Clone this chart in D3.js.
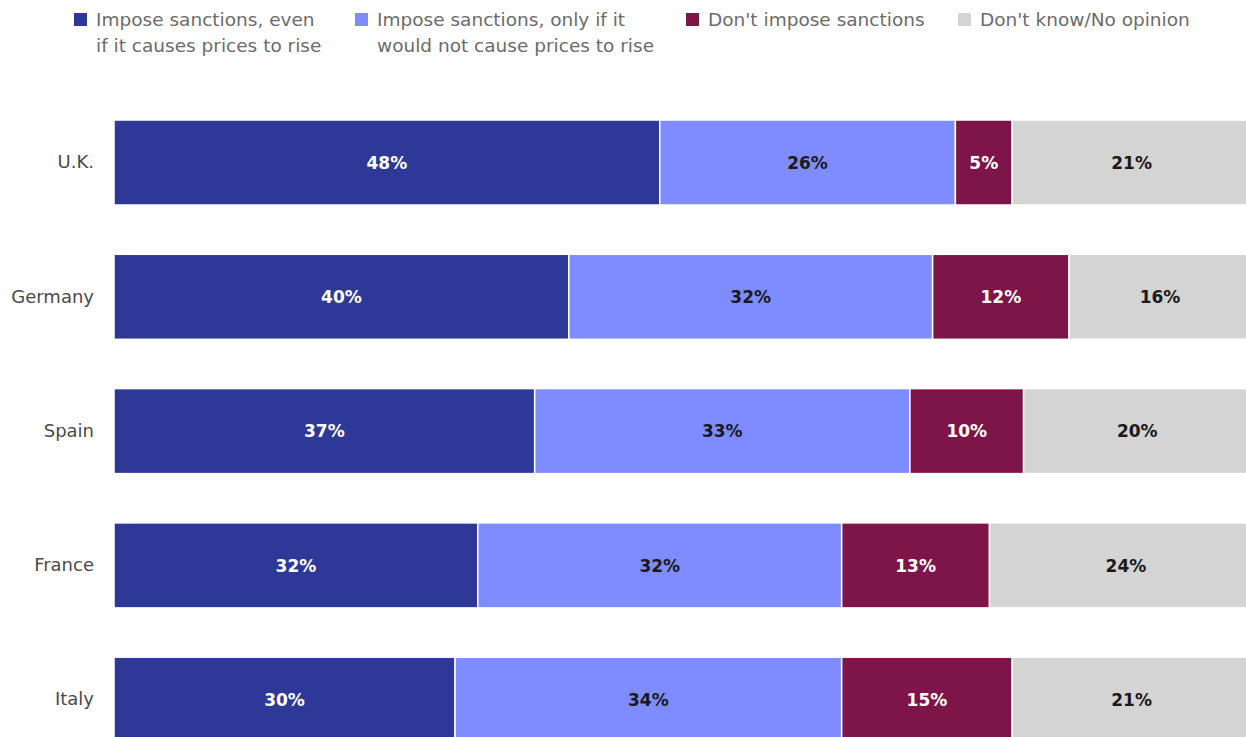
<!DOCTYPE html>
<html><head><meta charset="utf-8">
<script src="https://cdn.jsdelivr.net/npm/d3@7"></script>
<style>
body{margin:0;background:#fff;overflow:hidden;}
svg{display:block;font-family:"DejaVu Sans",sans-serif;}
</style></head>
<body><svg id="chart" width="1246" height="737"></svg>
<script>
const countries = ["U.K.","Germany","Spain","France","Italy"];
const seriesNames = ["Impose sanctions, even if it causes prices to rise","Impose sanctions, only if it would not cause prices to rise","Don't impose sanctions","Don't know/No opinion"];
const legendLines = [["Impose sanctions, even","if it causes prices to rise"],["Impose sanctions, only if it","would not cause prices to rise"],["Don't impose sanctions"],["Don't know/No opinion"]];
const evenIfRise = [48,40,37,32,30];
const onlyIfNoRise = [26,32,33,32,34];
const dontImpose = [5,12,10,13,15];
const dontKnow = [21,16,20,24,21];
const colors = ["#2e3897","#7f8cff","#7d1548","#d4d4d4"];
const labelColors = ["#ffffff","#1a1a1a","#ffffff","#1a1a1a"];

const values = [evenIfRise, onlyIfNoRise, dontImpose, dontKnow];
const rows = countries.map((c,i)=>{const o={country:c}; values.forEach((v,k)=>o["s"+k]=v[i]); return o;});
const keys = ["s0","s1","s2","s3"];
const stack = d3.stack().keys(keys)(rows);

const svg = d3.select("#chart");
const x = d3.scaleLinear().domain([0,100]).range([114,1251]);
const y = d3.scaleBand().domain(countries).range([120,742.2]).paddingInner(0.367).paddingOuter(0);

const g = svg.append("g");
stack.forEach((layer,k)=>{
  const lg = g.append("g");
  lg.selectAll("rect").data(layer).join("rect")
    .attr("x",d=>x(d[0])).attr("y",d=>y(d.data.country))
    .attr("width",d=>x(d[1])-x(d[0])).attr("height",y.bandwidth())
    .attr("fill",colors[k]).attr("stroke","#fff").attr("stroke-width",1.5);
  lg.selectAll("text").data(layer).join("text")
    .attr("x",d=>(x(d[0])+x(d[1]))/2).attr("y",d=>y(d.data.country)+y.bandwidth()/2)
    .attr("dy","0.36em").attr("text-anchor","middle")
    .attr("font-size",17).attr("font-weight",700).attr("fill",labelColors[k])
    .text(d=>(d[1]-d[0])+"%");
});

const yAxis = d3.axisLeft(y).tickSize(0).tickPadding(20);
const ax = svg.append("g").attr("transform","translate(114,0)").call(yAxis);
ax.select(".domain").remove();
ax.selectAll("text").attr("font-size",18).attr("fill","#4a4a4a").attr("font-family","'DejaVu Sans',sans-serif");

const legendX = [74,355,686,958];
const leg = svg.append("g");
legendLines.forEach((lines,i)=>{
  leg.append("rect").attr("x",legendX[i]).attr("y",13).attr("width",13).attr("height",13).attr("fill",colors[i]);
  const t = leg.append("text").attr("x",legendX[i]+22).attr("y",26).attr("font-size",18.5).attr("fill","#6b6b6b");
  lines.forEach((l,j)=>t.append("tspan").attr("x",legendX[i]+22).attr("dy",j===0?0:26).text(l));
});
</script></body></html>
